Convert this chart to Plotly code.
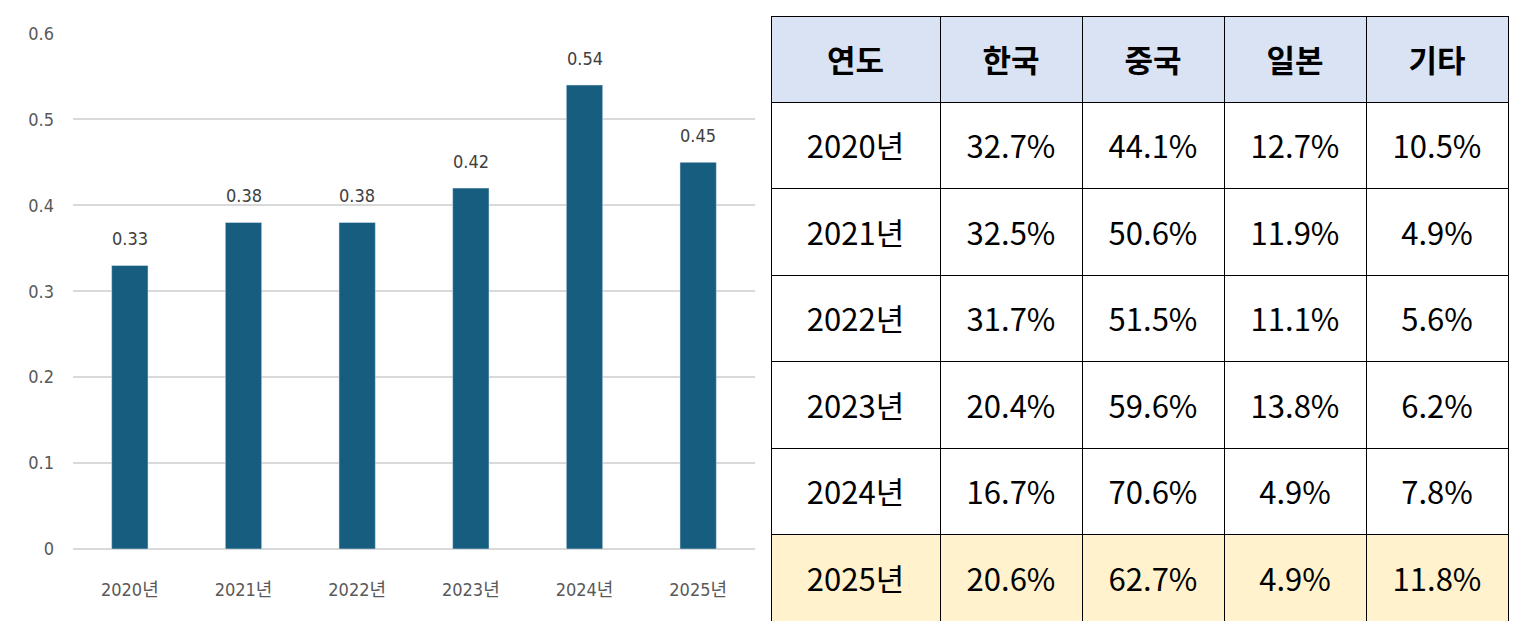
import plotly.graph_objects as go

years = ["2020년", "2021년", "2022년", "2023년", "2024년", "2025년"]
values = [0.33, 0.38, 0.38, 0.42, 0.54, 0.45]

header = ["연도", "한국", "중국", "일본", "기타"]
korea = ["32.7%", "32.5%", "31.7%", "20.4%", "16.7%", "20.6%"]
china = ["44.1%", "50.6%", "51.5%", "59.6%", "70.6%", "62.7%"]
japan = ["12.7%", "11.9%", "11.1%", "13.8%", "4.9%", "4.9%"]
other = ["10.5%", "4.9%", "5.6%", "6.2%", "7.8%", "11.8%"]

row_fill = ["white"] * 5 + ["#fff2cc"]

# page body has an 8px margin, so everything is placed 8px up/left
W, H, OFF = 1524, 626, 8


def cell(s, bold=False):
    # table text is top-aligned in plotly; an empty first line pushes it to the middle
    s = f"<b>{s}</b>" if bold else s
    return f" <br><span style='font-size:31px'>{s}</span>"


fig = go.Figure()

fig.add_trace(go.Bar(
    x=years,
    y=values,
    marker_color="#175d80",
    width=0.32,
    showlegend=False,
    hoverinfo="x+y",
))

for yr, v in zip(years, values):
    fig.add_annotation(
        x=yr, y=v, text=f"{v:.2f}", showarrow=False,
        yanchor="bottom", yshift=14,
        font=dict(size=18, color="#404040"),
    )

fig.add_trace(go.Table(
    domain=dict(x=[(771 - OFF) / W, (1508 - OFF) / W],
                y=[1 - (621 - OFF) / H, 1 - (16 - OFF) / H]),
    columnwidth=[169, 142, 142, 142, 142],
    header=dict(
        values=[cell(h, bold=True) for h in header],
        fill_color="#dae3f3",
        line=dict(color="black", width=1),
        align="center",
        height=86,
        font=dict(family="Noto Sans CJK KR", size=19.5, color="black"),
    ),
    cells=dict(
        values=[[cell(s) for s in col] for col in [years, korea, china, japan, other]],
        fill_color=[row_fill] * 5,
        line=dict(color="black", width=1),
        align="center",
        height=86.5,
        font=dict(family="Noto Sans CJK KR", size=19.5, color="black"),
    ),
))

fig.update_layout(
    width=W,
    height=H,
    margin=dict(l=0, r=0, t=0, b=0),
    paper_bgcolor="white",
    plot_bgcolor="white",
    font=dict(family="Liberation Sans Narrow, DejaVu Sans Condensed, Liberation Sans, Noto Sans CJK KR",
              color="#595959"),
    xaxis=dict(
        domain=[(73 - OFF) / W, (755 - OFF) / W],
        showgrid=False,
        showline=False,
        ticks="",
        automargin=False,
        ticklabelstandoff=28,
        tickfont=dict(size=18, color="#595959"),
    ),
    yaxis=dict(
        domain=[1 - (549 - OFF) / H, 1 - (33 - OFF) / H],
        range=[0, 0.6005],
        dtick=0.1,
        gridcolor="#d9d9d9",
        gridwidth=2,
        zeroline=True,
        zerolinecolor="#d9d9d9",
        zerolinewidth=2,
        ticks="",
        tickformat="~g",
        automargin=False,
        ticklabelstandoff=18,
        tickfont=dict(size=18, color="#595959"),
    ),
)

fig.write_html("out.html")
